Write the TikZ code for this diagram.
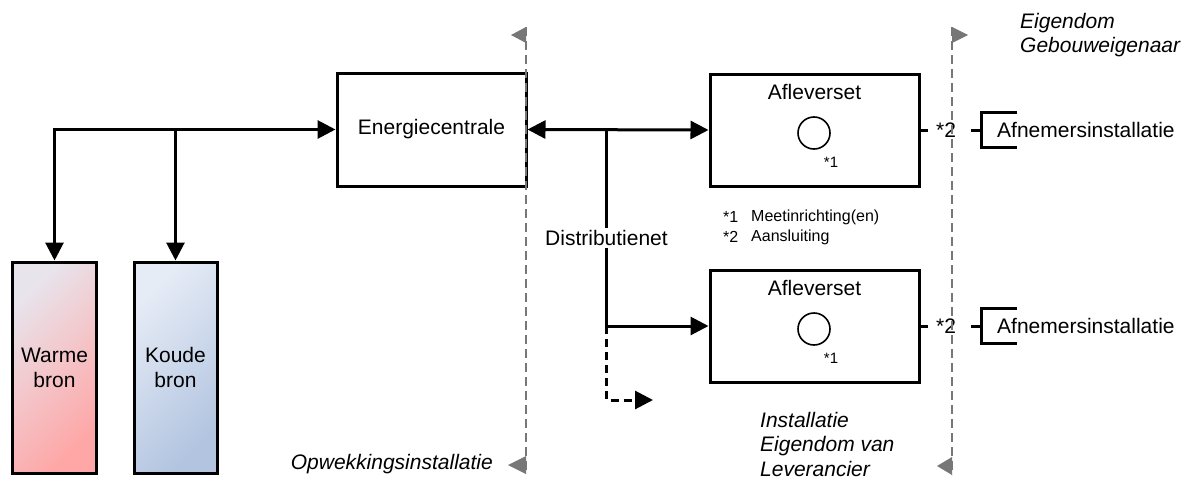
\documentclass[tikz,border=0pt]{standalone}
\usepackage{fontspec}
\setmainfont{Liberation Sans}
\usetikzlibrary{arrows.meta}

\definecolor{warmlight}{HTML}{E8E4EC}
\definecolor{warmdark}{HTML}{FFA6A6}
\definecolor{coldlight}{HTML}{E6ECF6}
\definecolor{colddark}{HTML}{B2C4E0}
\definecolor{grensgray}{HTML}{777777}

\tikzset{
  box/.style={draw, line width=3pt, minimum width=209pt, minimum height=112pt},
  bron/.style={draw, line width=3pt, minimum width=84pt, minimum height=211pt, align=center},
  pipe/.style={line width=3pt},
  grens/.style={grensgray, line width=2pt, dash pattern=on 9pt off 5pt},
  meter/.style={draw, circle, line width=1.6pt, minimum size=32pt},
  small/.style={font=\fontsize{15}{18}\selectfont},
  note/.style={font=\fontsize{21}{24.5}\selectfont\itshape, align=left},
}

\begin{document}
\begin{tikzpicture}[x=1pt, y=-1pt, inner sep=0pt, font=\fontsize{21}{25}\selectfont,
    >={Triangle[length=18pt,width=18pt]}]
    \useasboundingbox (0,0) rectangle (1181,479);

    % Bronnen en centrale
    \node[bron, shade, top color=warmlight, bottom color=warmdark, shading angle=45] (warm) at (54.5,367.5) {Warme\\bron};
    \node[bron, minimum width=83pt, shade, top color=coldlight, bottom color=colddark, shading angle=45] (koud) at (175.5,367.5) {Koude\\bron};
    \node[box, minimum width=189pt, minimum height=113pt] (ec) at (431.5,129.5) {Energiecentrale};

    \draw[pipe, <->] (warm.north) |- (ec.west);
    \draw[pipe, ->] (koud.north |- ec.west) -- (koud.north);

    % Afleversets
    \foreach \n/\y in {1/130, 2/326} {
        \node[box] (af\n) at (814.5,\y) {};
        \node (aft\n) at (814.5,\y-38) {Afleverset};
        \node[meter] (m\n) at (814,\y+3) {};
        \node[small] (mt\n) at (831,\y+32) {*1};
        \draw[pipe] (af\n.east) -- ++(7,0);
        \node (sp\n) at (946,\y) {*2};
        \node[anchor=west] (afn\n) at (997,\y) {Afnemersinstallatie};
        \draw[pipe] (971,\y) -- (981,\y);
        \draw[pipe] (1017,\y-18) -| (981,\y+17) -- (1017,\y+17);
    }

    % Distributienet
    \coordinate (split) at (606.5,130);
    \coordinate (dnend) at (606.5,400);
    \coordinate (dntip) at (653,400);
    \draw[pipe, <->] (ec.east) -- (af1.west);
    \draw[pipe, ->] (split) |- (af2.west);
    \draw[pipe, dash pattern=on 8pt off 5pt, ->] (af2.west -| split) -- (dnend) -- (dntip);
    \node[fill=white, inner sep=2pt] (dn) at (606.5,238) {Distributienet};

    \node[small, anchor=west, font=\fontsize{16}{19}\selectfont] (l1) at (723,217) {*1};
    \node[small, anchor=west, font=\fontsize{16}{19}\selectfont] at (751,217) {Meetinrichting(en)};
    \node[small, anchor=west, font=\fontsize{16}{19}\selectfont] (l2) at (723,237) {*2};
    \node[small, anchor=west, font=\fontsize{16}{19}\selectfont] at (751,237) {Aansluiting};

    % Grenzen
    \coordinate (g1top) at (526,27);  \coordinate (g1bot) at (526,474);
    \coordinate (g2top) at (952,27);  \coordinate (g2bot) at (952,475);
    \draw[grens] (g1top) -- (g1bot);
    \draw[grens] (g2top) -- (g2bot);
    \fill[grensgray] (g1top) -- ++(-15,8) -- ++(15,8) -- cycle;
    \fill[grensgray] (g1bot) -- ++(-18,-9) -- ++(18,-9) -- cycle;
    \fill[grensgray] (g2top) -- ++(16,8) -- ++(-16,8) -- cycle;
    \fill[grensgray] (g2bot) -- ++(-15,-9) -- ++(15,-9) -- cycle;

    \node[note, anchor=east] (own1) at (493,464) {Opwekkingsinstallatie};
    \node[note, anchor=west] (own2) at (760,444) {Installatie\\Eigendom van\\Leverancier};
    \node[note, anchor=west] (own3) at (1020,35) {Eigendom\\Gebouweigenaar};
\end{tikzpicture}
\end{document}
